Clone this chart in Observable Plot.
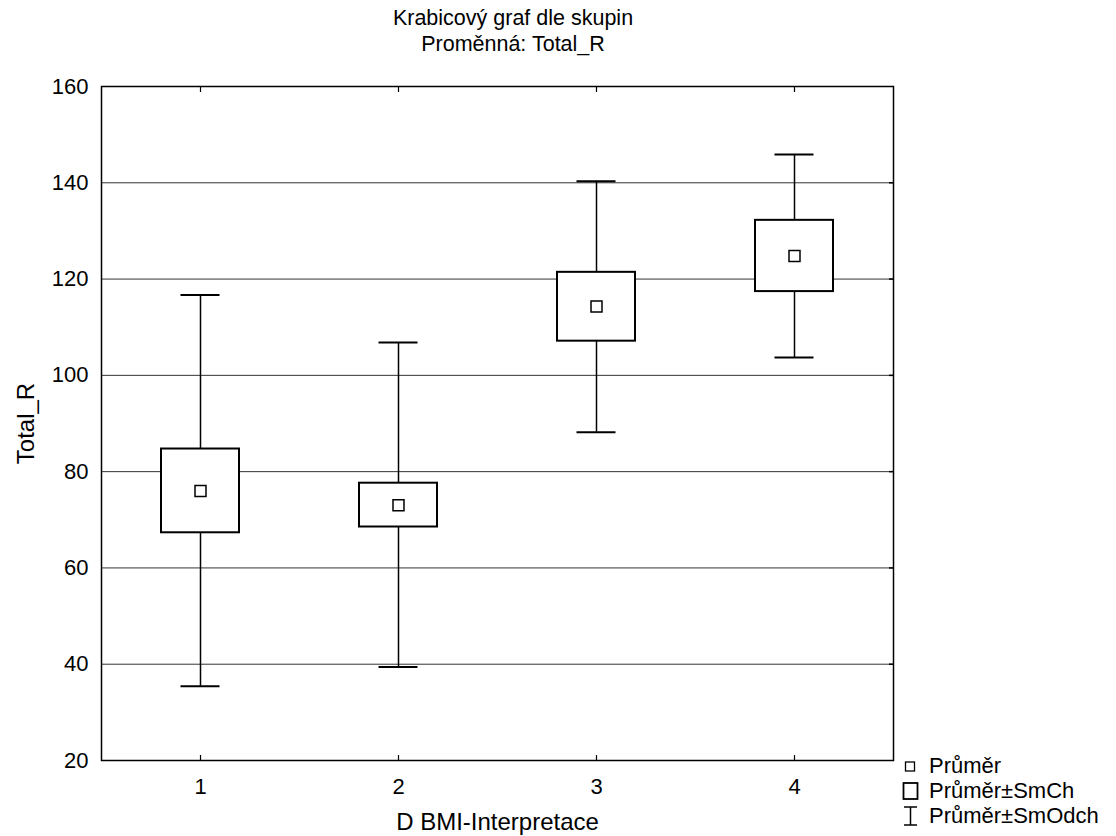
<!DOCTYPE html>
<html>
<head>
<meta charset="utf-8">
<script src="https://cdn.jsdelivr.net/npm/d3@7"></script>
<script src="https://cdn.jsdelivr.net/npm/@observablehq/plot@0.6"></script>
<style>
  html, body { margin: 0; padding: 0; background: #fff; }
  #wrap { position: relative; width: 1116px; height: 836px; font-family: "Liberation Sans", Arial, sans-serif; color: #000; overflow: hidden; }
  .t { position: absolute; font-size: 21.5px; white-space: nowrap; line-height: 1; }
  .title { left: 0; width: 1026px; text-align: center; }
  .leg { position: absolute; left: 900px; font-size: 22px; white-space: nowrap; line-height: 1; display: flex; align-items: center; }
  .leg svg { margin-right: 9px; flex: none; }
</style>
</head>
<body>
<div id="wrap">
  <div id="chart"></div>
  <div class="t title" style="top:8px;">Krabicový graf dle skupin</div>
  <div class="t title" style="top:34px;">Proměnná: Total_R</div>
  <div class="leg" style="top:755px;"><svg width="20" height="20"><rect x="5.5" y="6" width="9" height="9" fill="#fff" stroke="#000" stroke-width="1.3"/></svg>Průměr</div>
  <div class="leg" style="top:780px;"><svg width="20" height="20"><rect x="3.5" y="2" width="14" height="16" fill="#fff" stroke="#000" stroke-width="1.8"/></svg>Průměr±SmCh</div>
  <div class="leg" style="top:805px;"><svg width="20" height="22"><line x1="4" y1="2" x2="17" y2="2" stroke="#000" stroke-width="1.5"/><line x1="10.5" y1="2" x2="10.5" y2="20" stroke="#000" stroke-width="1.5"/><line x1="4" y1="20" x2="17" y2="20" stroke="#000" stroke-width="1.5"/></svg>Průměr±SmOdch</div>
</div>
<script>
const groups = [1, 2, 3, 4];
const means  = [76.0, 73.0, 114.3, 124.8];
const seLow  = [67.3, 68.5, 107.1, 117.4];
const seHigh = [84.7, 77.6, 121.4, 132.2];
const sdLow  = [35.4, 39.4, 88.2, 103.7];
const sdHigh = [116.7, 106.8, 140.3, 145.9];
const yTicks = [20, 40, 60, 80, 100, 120, 140, 160];
const gridTicks = [40, 60, 80, 100, 120, 140];

const data = groups.map((g, i) => ({
  g, mean: means[i], seLow: seLow[i], seHigh: seHigh[i], sdLow: sdLow[i], sdHigh: sdHigh[i]
}));

const chart = Plot.plot({
  width: 1116,
  height: 836,
  marginLeft: 101,
  marginRight: 223,
  marginTop: 86,
  marginBottom: 76,
  style: { fontSize: "22px", fontFamily: "'Liberation Sans', Arial, sans-serif", color: "#000", background: "#fff" },
  x: { type: "band", domain: groups, paddingInner: 0.606, paddingOuter: 0.303 },
  y: { domain: [20, 160] },
  marks: [
    Plot.gridY(gridTicks, { stroke: "#333", strokeOpacity: 1, strokeWidth: 1 }),
    Plot.axisY({ ticks: yTicks, tickSize: 0, tickPadding: 13, fontSize: 22, label: null }),
    Plot.axisY({ ticks: [], label: "Total_R", labelAnchor: "center", labelOffset: 85, labelArrow: "none", fontSize: 24 }),
    Plot.axisY({ anchor: "right", ticks: gridTicks, tickSize: 5, dx: -5, tickFormat: () => "", label: null, strokeWidth: 1.5 }),
    Plot.axisX({ tickSize: 0, tickPadding: 18, fontSize: 22, label: null }),
    Plot.axisX({ ticks: [], label: "D BMI-Interpretace", labelAnchor: "center", labelOffset: 69, labelArrow: "none", fontSize: 24 }),
    Plot.axisX({ anchor: "bottom", tickSize: 5, dy: -5, tickFormat: () => "", label: null, strokeWidth: 1.2 }),
    Plot.axisX({ anchor: "top", tickSize: 5, dy: 5, tickFormat: () => "", label: null, strokeWidth: 1.2 }),
    Plot.ruleX(data, { x: "g", y1: "sdLow", y2: "sdHigh", stroke: "#000", strokeWidth: 1.5 }),
    Plot.tickY(data, { x: "g", y: "sdHigh", insetLeft: 19.5, insetRight: 19.5, stroke: "#000", strokeWidth: 2 }),
    Plot.tickY(data, { x: "g", y: "sdLow", insetLeft: 19.5, insetRight: 19.5, stroke: "#000", strokeWidth: 2 }),
    Plot.barY(data, { x: "g", y1: "seLow", y2: "seHigh", fill: "#fff", stroke: "#000", strokeWidth: 2 }),
    Plot.dot(data, { x: "g", y: "mean", symbol: "square", r: 6.2, fill: "#fff", stroke: "#000", strokeWidth: 1.5 }),
    Plot.frame({ stroke: "#000", strokeWidth: 1.5 })
  ]
});
document.getElementById("chart").appendChild(chart);
</script>
</body>
</html>
